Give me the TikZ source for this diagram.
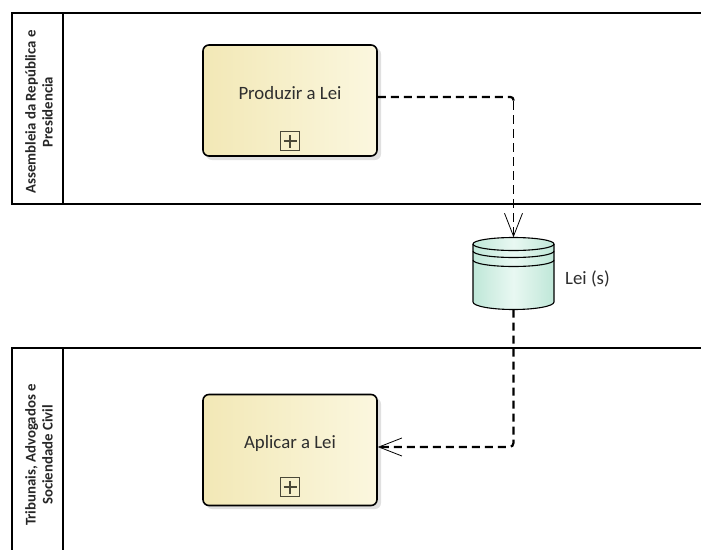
\documentclass[tikz,border=0pt]{standalone}
\usepackage{fontspec}
\setmainfont{Carlito}
\usetikzlibrary{arrows.meta}
\definecolor{taskL}{HTML}{F2E8B6}
\definecolor{taskR}{HTML}{FBF7DF}
\definecolor{storeE}{HTML}{BFE7D8}
\definecolor{storeM}{HTML}{E9F8F2}
\definecolor{txt}{HTML}{2E2E2E}
\definecolor{icon}{HTML}{4A4838}
\begin{document}
\begin{tikzpicture}[x=1pt,y=-1pt,
  pool/.style={draw=black, line width=2pt},
  tasknode/.style={draw=black, line width=1.6pt, rounded corners=6pt,
    minimum width=174pt, minimum height=111pt, inner sep=0pt,
    left color=taskL, right color=taskR},
  tasktext/.style={font=\fontsize{18.8}{20}\selectfont, text=txt, inner sep=0pt},
  lanelbl/.style={rotate=90, align=center, font=\bfseries\fontsize{14.8}{17}\selectfont, text=black!85},
  thickdash/.style={draw=black, line width=2.2pt, dash pattern=on 8pt off 5pt},
  thindash/.style={draw=black, line width=1pt, dash pattern=on 9pt off 5pt},
  tip/.style={-{Straight Barb[length=23pt,width=18pt,line width=0.8pt]}},
  shadowbox/.style={fill=black, opacity=0.12, rounded corners=6pt}
]
\useasboundingbox (0,0) rectangle (701,549);
\clip (0,0) rectangle (701,549);
\fill[white] (0,0) rectangle (701,549);

% pools
\draw[pool] (12,13) rectangle (720,204);
\draw[pool] (63,13) -- (63,204);
\draw[pool] (12,348) rectangle (720,580);
\draw[pool] (63,348) -- (63,580);
\node[lanelbl] (l1) at (39,112) {Assembleia da República e\\Presidencia};
\node[lanelbl] (l2) at (39,455) {Tribunais, Advogados e\\Sociendade Civil};

% shadows
\fill[shadowbox] (206,48) rectangle (381,160);
\fill[shadowbox] (206,398) rectangle (381,509);

% tasks
\node[tasknode] (p) at (290,100.5) {};
\node[tasktext] (pt) at (290,93) {Produzir a Lei};
\node[draw=icon, line width=1.2pt, minimum size=19pt, inner sep=0pt] (pi) at (290,141) {};
\draw[icon, line width=1.2pt] ([xshift=-6.5pt]pi.center) -- ([xshift=6.5pt]pi.center)
  ([yshift=-6.5pt]pi.center) -- ([yshift=6.5pt]pi.center);

\node[tasknode] (a) at (290,450) {};
\node[tasktext] (at) at (290,443) {Aplicar a Lei};
\node[draw=icon, line width=1.2pt, minimum size=19pt, inner sep=0pt] (ai) at (290,487) {};
\draw[icon, line width=1.2pt] ([xshift=-6.5pt]ai.center) -- ([xshift=6.5pt]ai.center)
  ([yshift=-6.5pt]ai.center) -- ([yshift=6.5pt]ai.center);

% data store
\node[minimum width=81pt, minimum height=72pt, inner sep=0pt] (store) at (513.5,273.5) {};
\path[left color=storeE, right color=storeE, middle color=storeM]
  (473,244) -- (473,302) arc[start angle=180, end angle=0, x radius=40.5, y radius=7.5]
  -- (554,244) arc[start angle=0, end angle=-180, x radius=40.5, y radius=6.5] -- cycle;
\draw[black, line width=1.1pt]
  (473,244) -- (473,302) arc[start angle=180, end angle=0, x radius=40.5, y radius=7.5]
  -- (554,244);
\draw[black, line width=1.1pt] (513.5,244) ellipse [x radius=40.5, y radius=6.5];
\draw[black, line width=1.1pt] (473,251) arc[start angle=180, end angle=0, x radius=40.5, y radius=6.5];
\draw[black, line width=1.1pt] (473,260) arc[start angle=180, end angle=0, x radius=40.5, y radius=6.5];
\node[tasktext, anchor=west] (sl) at (565,279) {Lei (s)};

% connectors
\coordinate (c1) at ([yshift=3.5pt]p.east -| store.north);
\draw[thickdash, rounded corners=3pt] ([yshift=3.5pt]p.east) -- (c1) -- ([yshift=-4pt]c1);
\draw[thindash, tip] ([yshift=-4pt]c1) -- (store.north);
\draw[thickdash, rounded corners=4pt, tip] (store.south) |- ([yshift=3pt]a.east);
\end{tikzpicture}
\end{document}
